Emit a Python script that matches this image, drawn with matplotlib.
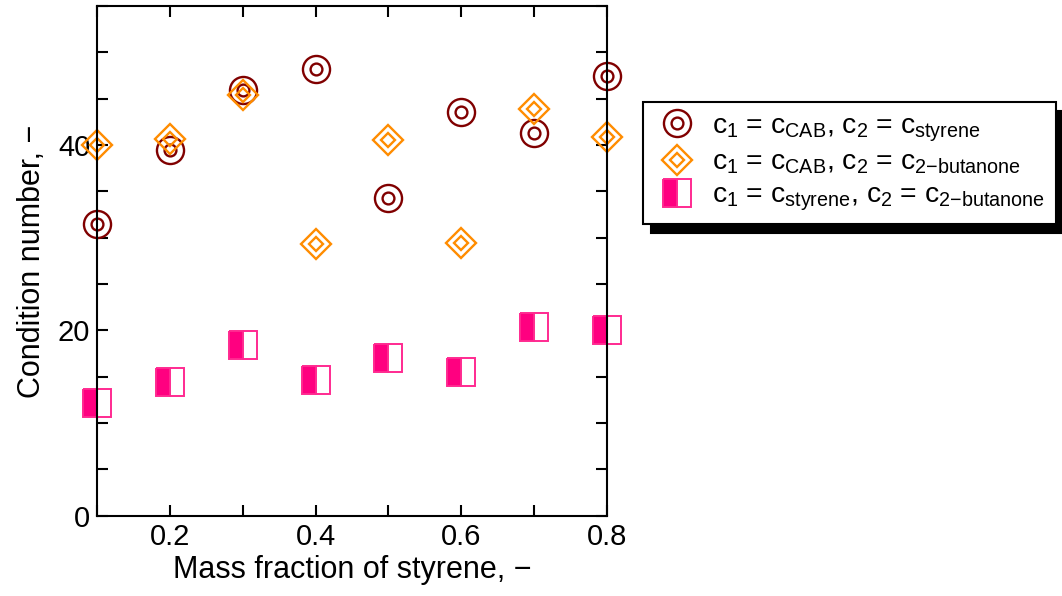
import matplotlib
matplotlib.use("Agg")
import matplotlib.pyplot as plt
from matplotlib.ticker import MultipleLocator

plt.rcParams['font.family'] = ['Liberation Sans', 'DejaVu Sans']
plt.rcParams['mathtext.fontset'] = 'custom'
plt.rcParams['mathtext.rm'] = 'Liberation Sans'
plt.rcParams['mathtext.it'] = 'Liberation Sans'
plt.rcParams['mathtext.default'] = 'regular'

# mass fraction of styrene
mass_frac = [0.1, 0.2, 0.3, 0.4, 0.5, 0.6, 0.7, 0.8]
# condition numbers for each pair of concentrations
cond_cab_styrene = [31.5, 39.5, 45.9, 48.2, 34.3, 43.6, 41.3, 47.5]
cond_cab_butanone = [40.0, 40.7, 45.4, 29.3, 40.5, 29.4, 43.9, 40.9]
cond_styrene_butanone = [12.2, 14.4, 18.4, 14.6, 17.0, 15.5, 20.4, 20.0]

labels = [
    'c$_1$ = c$_{CAB}$, c$_2$ = c$_{styrene}$',
    'c$_1$ = c$_{CAB}$, c$_2$ = c$_{2{-}butanone}$',
    'c$_1$ = c$_{styrene}$, c$_2$ = c$_{2{-}butanone}$',
]

red = '#800000'
orange = '#FF8C00'
pink = '#FF0080'

fig = plt.figure(figsize=(10.62, 5.96), dpi=100)
ax = fig.add_axes([0.0916, 0.1347, 0.4797, 0.8552])

# double circles
c_out, = ax.plot(mass_frac, cond_cab_styrene, 'o', ms=19.5, mfc='none',
                 mec=red, mew=1.7, clip_on=False)
c_in, = ax.plot(mass_frac, cond_cab_styrene, 'o', ms=8.5, mfc='none',
                mec=red, mew=1.7, clip_on=False)

# double diamonds
d_out, = ax.plot(mass_frac, cond_cab_butanone, 'D', ms=15.3, mfc='none',
                 mec=orange, mew=1.7, clip_on=False)
d_in, = ax.plot(mass_frac, cond_cab_butanone, 'D', ms=7, mfc='none',
                mec=orange, mew=1.7, clip_on=False)

# half filled squares
sq, = ax.plot(mass_frac, cond_styrene_butanone, 's', ms=20, fillstyle='left',
              mfc=pink, mfcalt='white', mec='#FF2A90', mew=1.4, clip_on=False)

ax.set_xlim(0.1, 0.8)
ax.set_ylim(0, 55)
ax.xaxis.set_minor_locator(MultipleLocator(0.1))
ax.yaxis.set_major_locator(MultipleLocator(20))
ax.yaxis.set_minor_locator(MultipleLocator(5))
ax.set_xticks([0.2, 0.4, 0.6, 0.8])
ax.set_xticklabels(['0.2', '0.4', '0.6', '0.8'])

for s in ax.spines.values():
    s.set_linewidth(1.5)
ax.tick_params(which='both', direction='in', top=True, right=True,
               length=8, width=1.5, labelsize=21, pad=5)

ax.set_xlabel('Mass fraction of styrene, \u2212', fontsize=22, labelpad=3)
ax.set_ylabel('Condition number, \u2212', fontsize=22, labelpad=8)

leg = fig.legend([(c_out, c_in), (d_out, d_in), sq], labels,
                 loc='upper left', bbox_to_anchor=(643 / 1062, 1 - 102 / 596),
                 borderaxespad=0, fontsize=20.3, frameon=True, fancybox=False,
                 edgecolor='black', framealpha=1, handlelength=1.6,
                 handletextpad=0.45, labelspacing=0.22,
                 shadow={'color': 'black', 'alpha': 1, 'ox': 5.8, 'oy': -6.2})
leg.get_frame().set_linewidth(1.5)

fig.savefig('out.png', dpi=100)
